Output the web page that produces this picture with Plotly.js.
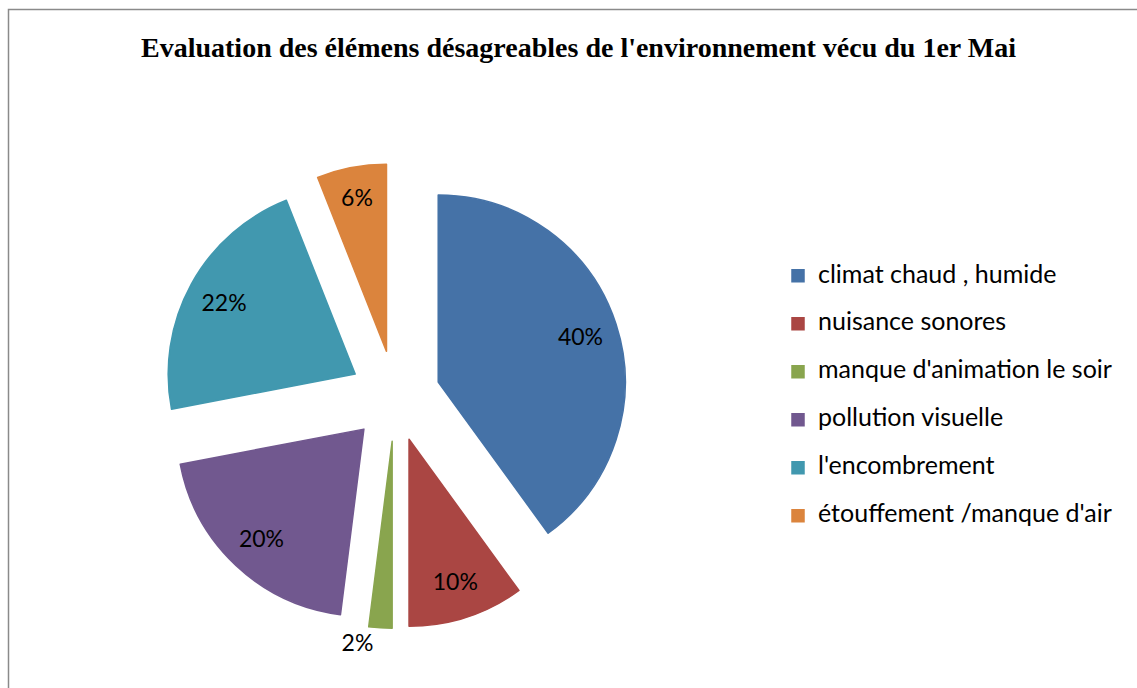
<!DOCTYPE html>
<html>
<head>
<meta charset="utf-8">
<script src="https://cdn.plot.ly/plotly-3.0.1.min.js"></script>
<style>html,body{margin:0;padding:0;background:#fff;}#chart{width:1137px;height:688px;}</style>
</head>
<body>
<div id="chart"></div>
<script>
var categories = ["climat chaud , humide", "nuisance sonores", "manque d'animation le soir", "pollution visuelle", "l'encombrement", "étouffement /manque d'air"];
var percentages = [40, 10, 2, 20, 22, 6];
var sliceColors = ["#4572A7", "#AA4643", "#89A54E", "#71588F", "#4198AF", "#DB843D"];
var chartTitle = "Evaluation des élémens désagreables de l'environnement vécu du 1er Mai";

var W = 1137, H = 688;
var cx = 395, cy = 396, R = 187, pullFrac = 0.243;
var half = R * (1 + pullFrac);
var dom = {
  x: [(cx - half) / W, (cx + half) / W],
  y: [1 - (cy + half) / H, 1 - (cy - half) / H]
};

// legend rows are 48px apart: two text lines of 17.3*1.3px + 3px each item
var legendLabels = categories.map(function (c) {
  return '<span style="font-size:25px">' + c + '</span><br> ';
});

var slices = {
  type: 'pie',
  labels: legendLabels,
  values: percentages,
  sort: false,
  direction: 'clockwise',
  rotation: 0,
  pull: pullFrac,
  domain: dom,
  marker: { colors: sliceColors, line: { color: sliceColors, width: 1.5 } },
  textinfo: 'none',
  hoverinfo: 'skip',
  showlegend: true
};

var labelsTrace = {
  type: 'pie',
  labels: legendLabels,
  values: percentages,
  sort: false,
  direction: 'clockwise',
  rotation: 0,
  pull: pullFrac,
  hole: 0.6,
  domain: dom,
  marker: { colors: categories.map(function () { return 'rgba(0,0,0,0)'; }), line: { width: 0 } },
  textinfo: 'percent',
  texttemplate: '%{percent:.0%}',
  textposition: ['inside', 'inside', 'outside', 'inside', 'inside', 'inside'],
  insidetextorientation: 'auto',
  insidetextfont: { family: 'Lato, sans-serif', size: 23, color: '#000' },
  outsidetextfont: { family: 'Lato, sans-serif', size: 23, color: '#000' },
  hoverinfo: 'skip',
  showlegend: false
};

var layout = {
  width: W,
  height: H,
  margin: { l: 0, r: 0, t: 0, b: 0, pad: 0 },
  paper_bgcolor: '#fff',
  title: {
    text: '<b>' + chartTitle + '</b>',
    font: { family: '"Liberation Serif", "Times New Roman", serif', size: 28, color: '#000' },
    x: 578.5 / W, xanchor: 'center', xref: 'paper',
    y: 1 - 47.2 / H, yanchor: 'middle', yref: 'container'
  },
  legend: {
    x: 778 / W, xanchor: 'left',
    y: 1 - 258 / H, yanchor: 'top',
    font: { family: 'Lato, sans-serif', size: 17.3, color: '#000' },
    valign: 'top',
    bgcolor: 'rgba(0,0,0,0)',
    borderwidth: 0,
    itemclick: false, itemdoubleclick: false
  },
  shapes: [{
    type: 'rect', xref: 'paper', yref: 'paper',
    x0: 8.5 / W, x1: 1.02, y0: -0.02, y1: 1 - 9.5 / H,
    line: { color: '#8a8a8a', width: 1.5 }, fillcolor: 'rgba(0,0,0,0)'
  }]
};

Plotly.newPlot('chart', [slices, labelsTrace], layout, { displayModeBar: false, staticPlot: true });
</script>
</body>
</html>
